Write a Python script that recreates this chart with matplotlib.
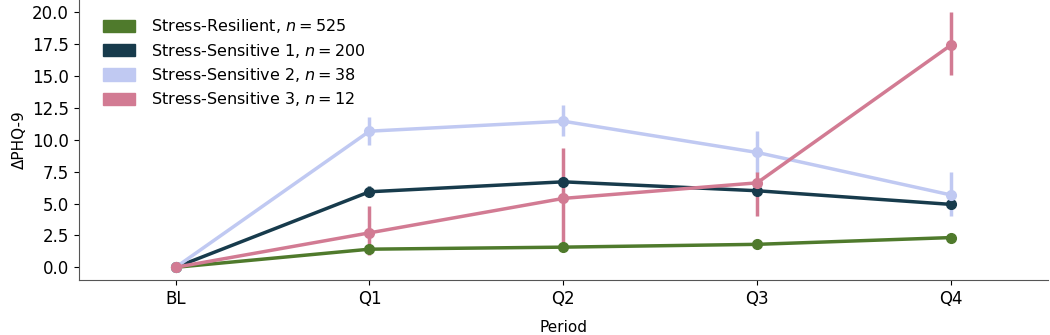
import matplotlib
matplotlib.use("Agg")
import matplotlib.pyplot as plt
from matplotlib.patches import Patch
import numpy as np

periods = ["BL", "Q1", "Q2", "Q3", "Q4"]
labels = ["Stress-Resilient, $n = 525$", "Stress-Sensitive 1, $n = 200$",
          "Stress-Sensitive 2, $n = 38$", "Stress-Sensitive 3, $n = 12$"]
colors = ["#4f7a2c", "#173b4c", "#c0c9f2", "#d27b93"]

resilient = [0.0, 1.42, 1.58, 1.80, 2.33]
resilient_lo = [0.0, 1.30, 1.46, 1.66, 2.15]
resilient_hi = [0.0, 1.55, 1.70, 1.94, 2.52]

sens1 = [0.0, 5.92, 6.70, 6.00, 4.93]
sens1_lo = [0.0, 5.55, 6.35, 5.65, 4.60]
sens1_hi = [0.0, 6.35, 7.05, 6.35, 5.25]

sens2 = [0.0, 10.67, 11.45, 9.00, 5.67]
sens2_lo = [0.0, 9.60, 10.30, 7.40, 4.00]
sens2_hi = [0.0, 11.80, 12.70, 10.70, 7.48]

sens3 = [0.0, 2.70, 5.40, 6.62, 17.42]
sens3_lo = [0.0, 1.00, 1.60, 4.00, 15.05]
sens3_hi = [0.0, 4.80, 9.33, 7.50, 20.00]

series = [(resilient, resilient_lo, resilient_hi),
          (sens1, sens1_lo, sens1_hi),
          (sens2, sens2_lo, sens2_hi),
          (sens3, sens3_lo, sens3_hi)]

fig = plt.figure(figsize=(10.5, 3.35), dpi=100)
ax = fig.add_axes([0.075, 0.164, 0.923, 0.836])

x = np.arange(len(periods))
for (vals, lo, hi), c in zip(series, colors):
    vals = np.array(vals); lo = np.array(lo); hi = np.array(hi)
    ax.vlines(x, lo, hi, color=c, lw=2.5, zorder=2)
    ax.plot(x, vals, color=c, lw=2.5, marker="o", ms=7, zorder=3)

ax.set_xticks(x)
ax.set_xticklabels(periods)
ax.set_xlim(-0.5, 4.5)
ax.set_ylim(-1.0, 20.95)
ax.set_yticks(np.arange(0, 20.1, 2.5))
ax.set_yticklabels([f"{v:.1f}" for v in np.arange(0, 20.1, 2.5)])
ax.tick_params(labelsize=12)
ax.spines["top"].set_visible(False)
ax.spines["right"].set_visible(False)
for s in ["left", "bottom"]:
    ax.spines[s].set_color("#555555")
ax.set_xlabel("Period", fontsize=11, labelpad=9)
ax.set_ylabel("ΔPHQ-9", fontsize=11)

handles = [Patch(facecolor=c, edgecolor=c, label=l) for c, l in zip(colors, labels)]
ax.legend(handles=handles, loc="upper left", bbox_to_anchor=(0.01, 0.99),
          frameon=False, fontsize=11.5, handlelength=2.0, handleheight=0.8,
          labelspacing=0.4, handletextpad=1.0)

fig.savefig("out.png", dpi=100)
